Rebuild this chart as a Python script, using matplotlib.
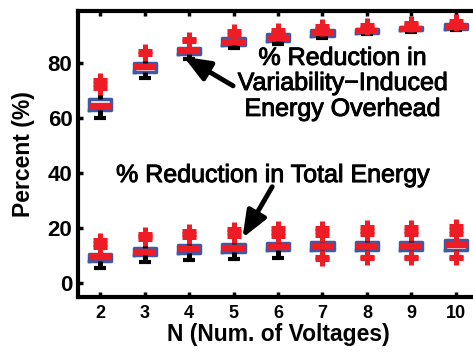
import matplotlib
matplotlib.use("Agg")
import matplotlib.pyplot as plt
import matplotlib.patheffects as pe

plt.rcParams['font.family'] = ['Liberation Sans', 'DejaVu Sans']

# number of supply voltages
n_volt = [2, 3, 4, 5, 6, 7, 8, 9, 10]

# % reduction in variability-induced energy overhead (box stats)
ovh_q1 = [62.8, 76.9, 83.3, 86.5, 87.9, 89.8, 91.0, 91.8, 92.3]
ovh_med = [64.5, 78.4, 84.3, 87.6, 89.2, 90.8, 91.6, 92.5, 93.1]
ovh_q3 = [66.8, 80.0, 85.4, 88.9, 90.6, 91.8, 92.3, 93.2, 94.0]
ovh_lo = [60.0, 74.6, 81.5, 85.5, 87.0, 89.2, 90.6, 91.4, 91.9]
ovh_hi = [71.1, 83.2, 88.0, 90.2, 91.0, 92.2, 92.7, 93.6, 94.3]
ovh_out = [[71.1, 72.4, 73.7], [83.2, 84.4], [88.0, 88.8], [90.2, 91.5],
           [91.0, 92.1], [92.2, 93.3], [92.7, 93.7], [93.6, 94.6], [94.3, 95.3]]

# % reduction in total energy
tot_q1 = [8.3, 10.2, 11.1, 11.4, 12.0, 12.0, 12.3, 12.3, 12.3]
tot_med = [9.5, 11.5, 12.4, 12.8, 13.4, 13.6, 13.7, 13.7, 13.8]
tot_q3 = [10.7, 12.9, 13.8, 14.2, 14.7, 15.1, 15.2, 15.2, 15.6]
tot_lo = [5.6, 7.8, 8.5, 8.9, 9.2, 9.5, 9.7, 9.7, 9.7]
tot_hi = [13.2, 16.1, 16.8, 17.2, 17.4, 17.6, 17.8, 17.8, 18.0]
tot_out = [[13.2, 14.5, 15.8], [16.1, 17.1, 18.1], [16.8, 17.9, 18.9],
           [17.2, 18.5, 19.7], [17.4, 18.7, 20.0], [8.9, 9.5, 17.6, 18.9, 20.2],
           [9.3, 9.7, 17.8, 19.2, 20.5], [9.3, 9.7, 17.8, 19.2, 20.5],
           [9.3, 9.7, 18.0, 19.4, 20.7]]

blue = '#3d5aa8'
red = '#ee1c25'


def make_stats(q1, med, q3, lo, hi, out):
    stats = []
    for i in range(len(q1)):
        stats.append(dict(q1=q1[i], med=med[i], q3=q3[i],
                          whislo=lo[i], whishi=hi[i], fliers=out[i]))
    return stats


fig = plt.figure(figsize=(4.73, 3.57), dpi=100)
ax = fig.add_axes([0.1649, 0.1689, 0.8457, 0.8006])

box_kw = dict(positions=n_volt, widths=0.5, capwidths=0.27, manage_ticks=False,
              boxprops=dict(color=blue, lw=2.5),
              medianprops=dict(color=red, lw=4.6, solid_capstyle='butt'),
              whiskerprops=dict(color='k', lw=3.6, solid_capstyle='butt'),
              capprops=dict(color='k', lw=3.0, solid_capstyle='butt'),
              flierprops=dict(marker='+', markeredgecolor=red, markersize=10,
                              markeredgewidth=3.6, linestyle='none'))

ax.bxp(make_stats(ovh_q1, ovh_med, ovh_q3, ovh_lo, ovh_hi, ovh_out), **box_kw)
ax.bxp(make_stats(tot_q1, tot_med, tot_q3, tot_lo, tot_hi, tot_out), **box_kw)

ax.set_xlim(1.5, 10.5)
ax.set_ylim(-4.8, 98.9)
ax.set_xticks(n_volt)
ax.set_yticks([0, 20, 40, 60, 80])
ax.tick_params(direction='in', length=3.5, width=2.5, top=True, right=True)
ax.tick_params(axis='x', pad=6, labelsize=13)
ax.tick_params(axis='y', pad=4, labelsize=16)
for lab in ax.get_xticklabels() + ax.get_yticklabels():
    lab.set_fontweight('bold')
for sp in ax.spines.values():
    sp.set_linewidth(3)

ax.set_xlabel('N (Num. of Voltages)', fontsize=16.5, fontweight='bold', labelpad=1)
ax.set_ylabel('Percent (%)', fontsize=16.5, fontweight='bold', labelpad=9)

# annotations
arrow = dict(arrowstyle='-|>,head_length=0.8,head_width=0.32', color='k',
             lw=3.5, mutation_scale=20, shrinkA=0, shrinkB=0)
ax.annotate('', xy=(3.875, 82.3), xytext=(4.99, 71.7), arrowprops=arrow)
ax.annotate('', xy=(5.2, 16.5), xytext=(5.87, 35.1), arrowprops=arrow)

heavy = [pe.withStroke(linewidth=0.7, foreground='k')]
txt_kw = dict(fontsize=18, ha='center', va='baseline', path_effects=heavy)
ax.text(7.45, 79.3, '% Reduction in', **txt_kw)
ax.text(7.45, 70.2, 'Variability\u2212Induced', **txt_kw)
ax.text(7.45, 60.8, 'Energy Overhead', **txt_kw)
ax.text(5.88, 36.8, '% Reduction in Total Energy', **txt_kw)

fig.savefig('out.png', dpi=100)
